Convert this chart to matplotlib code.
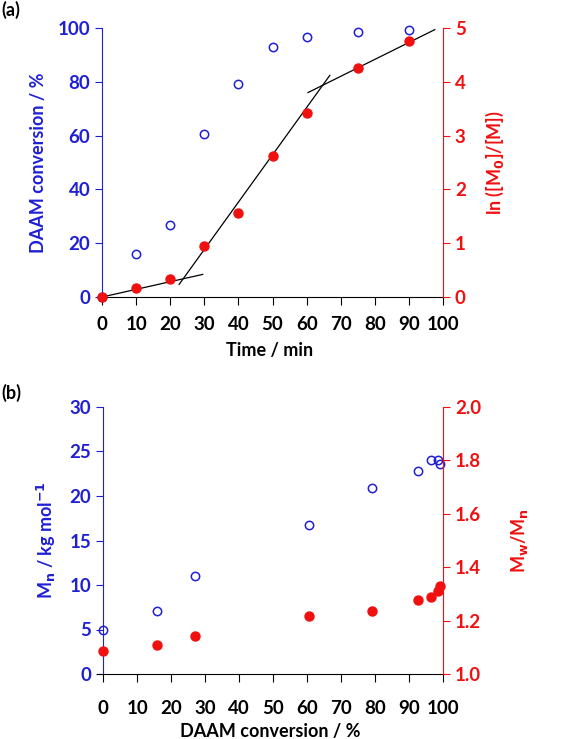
import matplotlib
matplotlib.use("Agg")
import matplotlib.pyplot as plt

plt.rcParams['font.family'] = ['Lato', 'DejaVu Sans']
plt.rcParams['font.weight'] = 'bold'

BLUE = '#1f1fd6'
RED = '#f01010'

# panel (a)
time_min = [0, 10, 20, 30, 40, 50, 60, 75, 90]
conversion = [0, 15.8, 26.9, 60.7, 79.2, 92.8, 96.8, 98.6, 99.2]
ln_ratio = [0, 0.17, 0.33, 0.94, 1.57, 2.63, 3.42, 4.25, 4.75]

# linear fits drawn in panel (a): (x0, y0, x1, y1)
fit_lines = [
    (0, 0, 29.5, 0.42),
    (22.6, 0.235, 66.8, 4.12),
    (60.4, 3.80, 97.6, 4.97),
]

# panel (b)
conv_b = [0, 15.8, 26.9, 60.6, 79.0, 92.7, 96.6, 98.5, 99.1]
mn = [5.0, 7.1, 11.0, 16.7, 20.9, 22.85, 24.0, 24.1, 23.6]
dispersity = [1.086, 1.109, 1.144, 1.218, 1.237, 1.277, 1.287, 1.31, 1.331]

fig = plt.figure(figsize=(5.83, 7.39), dpi=100)

W, H = 583, 739
def rect(x0, y0, x1, y1):
    return [x0 / W, 1 - y1 / H, (x1 - x0) / W, (y1 - y0) / H]

FS = 13.5
LFS = 13


def style(ax, ax2, xlim, xpad):
    ax.set_xlim(*xlim)
    ax.spines['top'].set_visible(False)
    ax.spines['right'].set_visible(False)
    ax.spines['left'].set_position(('data', 0))
    ax.spines['left'].set_color(BLUE)
    ax.spines['bottom'].set_color('black')
    ax.tick_params(axis='y', colors=BLUE, labelsize=FS, direction='out', length=5)
    ax.tick_params(axis='x', colors='black', labelsize=FS, direction='out', length=6, pad=xpad)
    for sp in ['top', 'left', 'bottom']:
        ax2.spines[sp].set_visible(False)
    ax2.spines['right'].set_color(RED)
    ax2.tick_params(axis='y', colors=RED, labelsize=FS, direction='out', length=5)
    for lab in ax.get_xticklabels() + ax.get_yticklabels() + ax2.get_yticklabels():
        lab.set_fontweight('bold')


# ---- (a)
ax = fig.add_axes(rect(97, 28, 443, 297))
ax2 = ax.twinx()
ax.plot(time_min, conversion, 'o', mfc='none', mec=BLUE, ms=6, mew=1.1, clip_on=False, zorder=3)
ax2.plot(time_min, ln_ratio, 'o', color=RED, ms=6.5, clip_on=False, zorder=3)
for x0, y0, x1, y1 in fit_lines:
    ax2.plot([x0, x1], [y0, y1], color='black', lw=0.9)
ax.set_ylim(0, 100)
ax2.set_ylim(0, 5)
ax.set_yticks(range(0, 101, 20))
ax2.set_yticks(range(0, 6))
ax.set_xticks(range(0, 101, 10))
style(ax, ax2, (-1.5, 100), 8)
ax.set_xlabel('Time / min', fontsize=LFS, fontweight='bold', labelpad=6)
ax.set_ylabel('DAAM conversion / %', fontsize=LFS, fontweight='bold', color=BLUE, labelpad=8)
ax2.set_ylabel('ln ([M$_\\mathbf{0}$]/[M])', fontsize=LFS, fontweight='bold', color=RED, labelpad=13)
fig.text(1 / W, 1 - 10 / H, '(a)', fontsize=LFS, fontweight='bold', va='center')

# ---- (b)
bx = fig.add_axes(rect(97, 407, 443, 674))
bx2 = bx.twinx()
bx.plot(conv_b, mn, 'o', mfc='none', mec=BLUE, ms=6, mew=1.1, clip_on=False, zorder=3)
bx2.plot(conv_b, dispersity, 'o', color=RED, ms=6.5, clip_on=False, zorder=3)
bx.set_ylim(0, 30)
bx2.set_ylim(1.0, 2.0)
bx.set_yticks(range(0, 31, 5))
bx2.set_yticks([1.0, 1.2, 1.4, 1.6, 1.8, 2.0])
bx2.set_yticklabels(['1.0', '1.2', '1.4', '1.6', '1.8', '2.0'])
bx.set_xticks(range(0, 101, 10))
style(bx, bx2, (-1.8, 100), 13)
bx.set_xlabel('DAAM conversion / %', fontsize=LFS, fontweight='bold', labelpad=4)
bx.set_ylabel('M$_\\mathbf{n}$ / kg mol$^\\mathbf{-1}$', fontsize=LFS, fontweight='bold', color=BLUE, labelpad=8)
bx2.set_ylabel('M$_\\mathbf{w}$/M$_\\mathbf{n}$', fontsize=LFS, fontweight='bold', color=RED, labelpad=20)
fig.text(1 / W, 1 - 393 / H, '(b)', fontsize=LFS, fontweight='bold', va='center')

fig.savefig('out.png', dpi=100)
